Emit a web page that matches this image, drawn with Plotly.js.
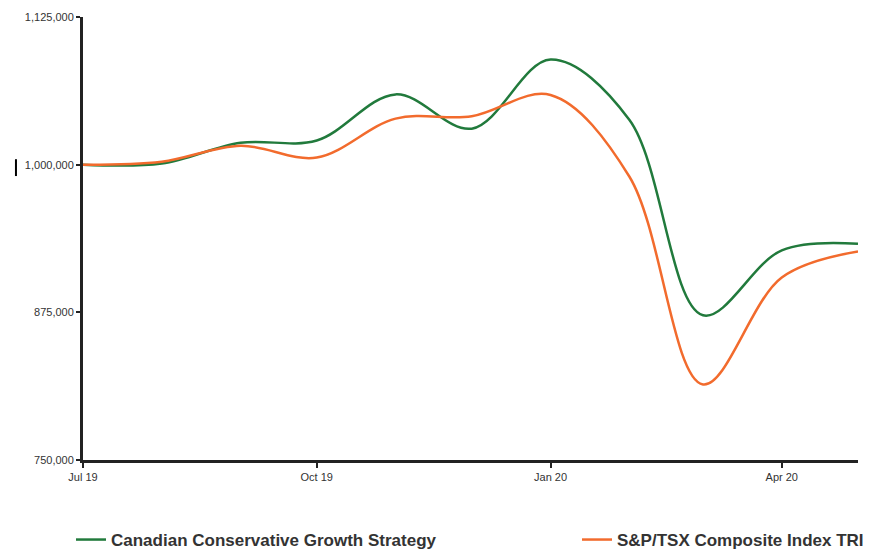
<!DOCTYPE html>
<html>
<head>
<meta charset="utf-8">
<script src="https://cdn.plot.ly/plotly-3.0.1.min.js"></script>
<style>html,body{margin:0;padding:0;background:#fff;}#chart{width:879px;height:554px;}</style>
</head>
<body>
<div id="chart"></div>
<script>
var dates = ['2019-07-01','2019-08-01','2019-09-01','2019-10-01','2019-11-01','2019-12-01','2020-01-01','2020-02-01','2020-03-01','2020-04-01','2020-05-01'];
var strategyValues = [1000000, 1001000, 1018500, 1020500, 1059500, 1030500, 1089000, 1038000, 872500, 927500, 933000];
var indexValues = [1000000, 1002500, 1016000, 1006000, 1039000, 1041000, 1059000, 990000, 814000, 904500, 926500];
var strategyName = 'Canadian Conservative Growth Strategy';
var indexName = 'S&P/TSX Composite Index TRI';
var yTickVals = [750000, 875000, 1000000, 1125000];
var yTickText = ['750,000', '875,000', '1,000,000', '1,125,000'];
var xTickVals = ['2019-07-01', '2019-10-01', '2020-01-01', '2020-04-01'];
var xTickText = ['Jul 19', 'Oct 19', 'Jan 20', 'Apr 20'];

var traces = [
  {x: dates, y: strategyValues, name: strategyName, type: 'scatter', mode: 'lines',
   line: {color: '#217a3c', width: 2.5, shape: 'spline', smoothing: 1}, legend: 'legend'},
  {x: dates, y: indexValues, name: indexName, type: 'scatter', mode: 'lines',
   line: {color: '#f26b2d', width: 2.5, shape: 'spline', smoothing: 1}, legend: 'legend2'}
];

var legendFont = {family: 'Liberation Sans, Arial, sans-serif', size: 17, color: '#333', weight: 'bold'};

var layout = {
  width: 879, height: 554,
  margin: {l: 83, r: 21, t: 17, b: 94},
  paper_bgcolor: '#fff', plot_bgcolor: '#fff',
  showlegend: true,
  xaxis: {
    type: 'date', range: ['2019-07-01', '2020-05-01'],
    tickvals: xTickVals, ticktext: xTickText,
    showgrid: false, zeroline: false,
    showline: true, linecolor: '#222', linewidth: 3,
    ticks: 'outside', ticklen: 5, tickwidth: 2, tickcolor: '#222',
    tickfont: {family: 'Liberation Sans, Arial, sans-serif', size: 11, color: '#333'}
  },
  yaxis: {
    range: [750000, 1125000],
    tickvals: yTickVals, ticktext: yTickText,
    showgrid: false, zeroline: false,
    showline: true, linecolor: '#222', linewidth: 3,
    ticks: 'outside', ticklen: 4, tickwidth: 2, tickcolor: '#222',
    tickfont: {family: 'Liberation Sans, Arial, sans-serif', size: 11, color: '#333'}
  },
  legend: {xref: 'container', yref: 'container', x: 71/879, xanchor: 'left', y: 14/554, yanchor: 'middle',
           orientation: 'h', font: legendFont, bgcolor: 'rgba(0,0,0,0)'},
  legend2: {xref: 'container', yref: 'container', x: 577/879, xanchor: 'left', y: 14/554, yanchor: 'middle',
           orientation: 'h', font: legendFont, bgcolor: 'rgba(0,0,0,0)'},
  shapes: [
    {type: 'line', xref: 'paper', yref: 'paper', x0: -0.0865, x1: -0.0865, y0: 0.641, y1: 0.679,
     line: {color: '#000', width: 2}}
  ]
};

Plotly.newPlot('chart', traces, layout, {displayModeBar: false, staticPlot: true});
</script>
</body>
</html>
